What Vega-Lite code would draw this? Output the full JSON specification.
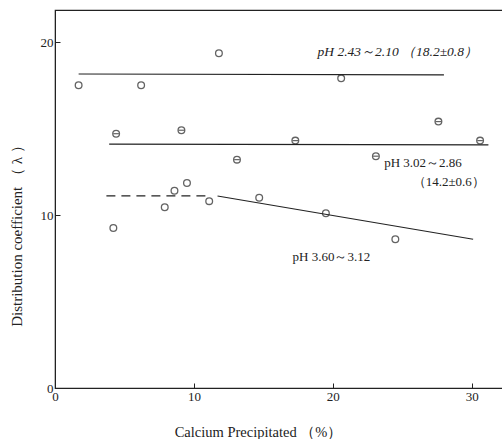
{
  "$schema": "https://vega.github.io/schema/vega-lite/v6.json",
  "width": 448,
  "height": 378,
  "autosize": "none",
  "padding": {"left": 55, "top": 10, "right": 0, "bottom": 51},
  "background": "white",
  "config": {
    "view": {"stroke": "#222", "strokeWidth": 1.2},
    "font": "Liberation Serif"
  },
  "datasets": {
    "points": [
      {"x": 1.7, "y": 17.5, "series": "A"},
      {"x": 6.2, "y": 17.5, "series": "A"},
      {"x": 11.8, "y": 19.35, "series": "A"},
      {"x": 20.6, "y": 17.9, "series": "A"},
      {"x": 4.4, "y": 14.7, "series": "B"},
      {"x": 9.1, "y": 14.9, "series": "B"},
      {"x": 13.1, "y": 13.2, "series": "B"},
      {"x": 17.3, "y": 14.3, "series": "B"},
      {"x": 23.1, "y": 13.4, "series": "B"},
      {"x": 27.6, "y": 15.4, "series": "B"},
      {"x": 30.6, "y": 14.3, "series": "B"},
      {"x": 4.2, "y": 9.25, "series": "C"},
      {"x": 7.9, "y": 10.45, "series": "C"},
      {"x": 8.6, "y": 11.4, "series": "C"},
      {"x": 9.5, "y": 11.85, "series": "C"},
      {"x": 11.1, "y": 10.8, "series": "C"},
      {"x": 14.7, "y": 11.0, "series": "C"},
      {"x": 19.5, "y": 10.1, "series": "C"},
      {"x": 24.5, "y": 8.6, "series": "C"}
    ],
    "lines": [
      {"x": 1.7, "y": 18.15, "line": "A"},
      {"x": 28.0, "y": 18.1, "line": "A"},
      {"x": 3.9, "y": 14.1, "line": "B"},
      {"x": 31.2, "y": 14.05, "line": "B"},
      {"x": 11.7, "y": 11.1, "line": "C"},
      {"x": 30.1, "y": 8.6, "line": "C"}
    ],
    "dashed": [
      {"x": 3.7, "y": 11.1},
      {"x": 11.0, "y": 11.1}
    ],
    "italicLabels": [
      {"x": 18.9, "y": 19.42, "text": "pH 2.43～2.10 （18.2±0.8）"}
    ],
    "labels": [
      {"x": 23.7, "y": 13.0, "text": "pH 3.02～2.86"},
      {"x": 25.75, "y": 11.9, "text": "（14.2±0.6）"},
      {"x": 17.1, "y": 7.6, "text": "pH 3.60～3.12"}
    ]
  },
  "layer": [
    {
      "data": {"name": "lines"},
      "mark": {"type": "line", "color": "#222", "strokeWidth": 1.2},
      "encoding": {
        "x": {
          "field": "x", "type": "quantitative",
          "scale": {"domain": [0, 32.25], "nice": false, "zero": false},
          "axis": {
            "values": [0, 10, 20, 30],
            "grid": false,
            "domainColor": "#222",
            "tickColor": "#222",
            "tickSize": -5,
            "labelPadding": 7,
            "labelFlush": false,
            "labelFontSize": 13,
            "labelColor": "#222",
            "title": "Calcium  Precipitated （%）",
            "titleFont": "Liberation Serif",
            "titleFontSize": 14.5,
            "titleFontWeight": "normal",
            "titleColor": "#222",
            "titleBaseline": "middle",
            "titleX": 203,
            "titleY": 44
          }
        },
        "y": {
          "field": "y", "type": "quantitative",
          "scale": {"domain": [0, 21.85], "nice": false},
          "axis": {
            "values": [0, 10, 20],
            "grid": false,
            "domainColor": "#222",
            "tickColor": "#222",
            "tickSize": -5,
            "labelPadding": 7,
            "labelFontSize": 13,
            "labelColor": "#222",
            "title": "Distribution  coefficient （ λ ）",
            "titleFont": "Liberation Serif",
            "titleFontSize": 15,
            "titleFontWeight": "normal",
            "titleColor": "#222",
            "titleBaseline": "middle",
            "titleX": -39,
            "titleY": 222
          }
        },
        "detail": {"field": "line", "type": "nominal"}
      }
    },
    {
      "data": {"name": "dashed"},
      "mark": {"type": "line", "color": "#222", "strokeWidth": 1.2, "strokeDash": [9, 6]},
      "encoding": {
        "x": {"field": "x", "type": "quantitative"},
        "y": {"field": "y", "type": "quantitative"}
      }
    },
    {
      "data": {"name": "points"},
      "mark": {"type": "point", "shape": "circle", "filled": false, "size": 45, "color": "#222", "strokeWidth": 1.3},
      "encoding": {
        "x": {"field": "x", "type": "quantitative"},
        "y": {"field": "y", "type": "quantitative"}
      }
    },
    {
      "data": {"name": "points"},
      "transform": [{"filter": "datum.series == 'B'"}],
      "mark": {"type": "point", "shape": "M-1,0L1,0", "filled": false, "size": 30, "color": "#222", "strokeWidth": 1.2},
      "encoding": {
        "x": {"field": "x", "type": "quantitative"},
        "y": {"field": "y", "type": "quantitative"}
      }
    },
    {
      "data": {"name": "italicLabels"},
      "mark": {"type": "text", "fontSize": 13.5, "fontStyle": "italic", "color": "#222", "align": "left", "baseline": "middle", "font": "Liberation Serif"},
      "encoding": {
        "x": {"field": "x", "type": "quantitative"},
        "y": {"field": "y", "type": "quantitative"},
        "text": {"field": "text"}
      }
    },
    {
      "data": {"name": "labels"},
      "mark": {"type": "text", "fontSize": 13, "color": "#222", "align": "left", "baseline": "middle", "font": "Liberation Serif"},
      "encoding": {
        "x": {"field": "x", "type": "quantitative"},
        "y": {"field": "y", "type": "quantitative"},
        "text": {"field": "text"}
      }
    }
  ]
}
